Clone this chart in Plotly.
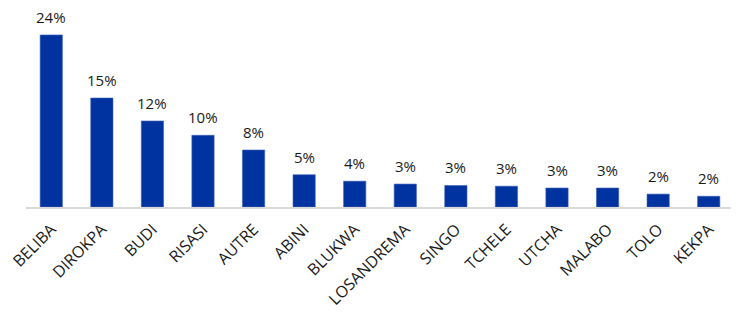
import plotly.graph_objects as go

categories = ["BELIBA", "DIROKPA", "BUDI", "RISASI", "AUTRE", "ABINI", "BLUKWA",
              "LOSANDREMA", "SINGO", "TCHELE", "UTCHA", "MALABO", "TOLO", "KEKPA"]
values = [24.0, 15.2, 12.0, 10.0, 7.95, 4.5, 3.6, 3.2, 3.0, 2.9, 2.65, 2.65, 1.8, 1.5]
labels = ["24%", "15%", "12%", "10%", "8%", "5%", "4%", "3%", "3%", "3%", "3%", "3%", "2%", "2%"]

FONT = "Open Sans"

fig = go.Figure(go.Bar(
    x=categories, y=values,
    marker=dict(color="#0033A0", line=dict(color="#3d62b8", width=0.6)),
    hoverinfo="skip",
))

for c, v, t in zip(categories, values, labels):
    fig.add_annotation(x=c, y=v, text=t, showarrow=False, yanchor="bottom",
                       yshift=6, font=dict(family=FONT, size=15, color="#1a1a1a"))

# page body has an 8px default margin, so the figure is sized/margined to compensate
fig.update_layout(
    width=731, height=306,
    margin=dict(l=18, r=5, t=2, b=107),
    plot_bgcolor="white", paper_bgcolor="white",
    bargap=0.56,
    showlegend=False,
    font=dict(family=FONT, size=15, color="#1a1a1a"),
)
fig.update_xaxes(tickangle=-45, showline=True, linecolor="#d9d9d9", linewidth=1.5,
                 ticks="", showgrid=False, automargin=False, ticklabelstandoff=5,
                 tickfont=dict(family=FONT, size=16, color="#1a1a1a"))
fig.update_yaxes(visible=False, range=[0, 27.48], showgrid=False, automargin=False)

fig.write_html("out.html")
